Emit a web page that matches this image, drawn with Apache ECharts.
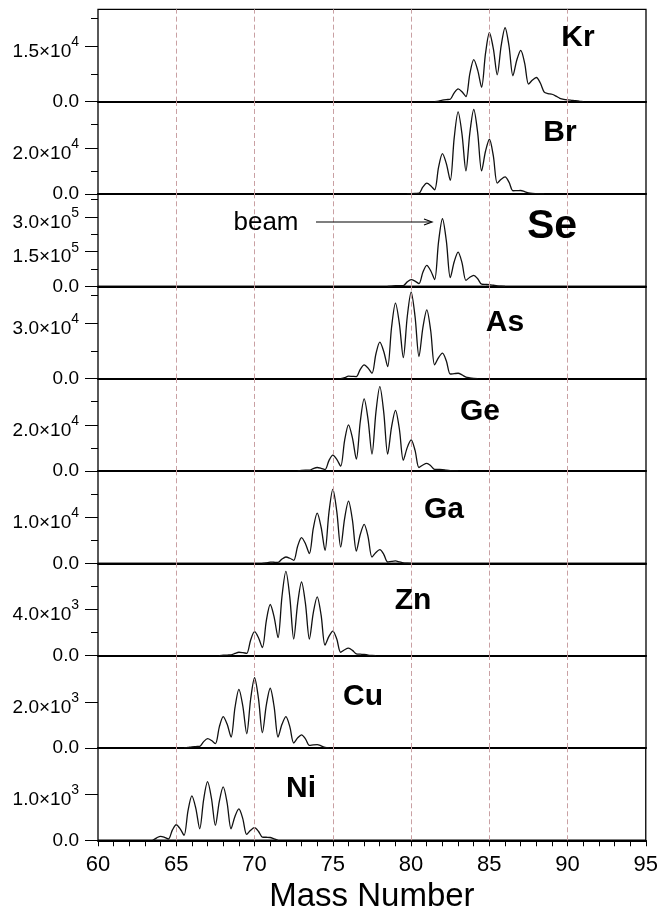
<!DOCTYPE html>
<html><head><meta charset="utf-8">
<script src="https://cdn.jsdelivr.net/npm/echarts@6/dist/echarts.min.js"></script>
<style>html,body{margin:0;padding:0;background:#fff}#c{width:661px;height:916px}</style>
</head><body><div id="c"></div>
<script>
// ---------- data ----------
const elements = ['Kr','Br','Se','As','Ge','Ga','Zn','Cu','Ni'];
const massStep = 0.25;
const krStart = 81.5;
const krCounts = [0,150,400,550,650,2392,3460,2662,1360,7566,11370,8531,3900,13045,18650,14326,7270,15163,20000,15060,7000,11278,13900,10423,4750,5860,6540,5043,2600,2200,2000,1500,900,600,450,350,250,120,0];
const brStart = 79.75;
const brCounts = [0,150,250,300,3028,4700,3590,1780,11508,17470,13073,5900,24283,35550,25841,10000,26480,36580,26480,10000,18494,23700,16480,4700,6362,7380,5108,1400,1450,1500,1000,500,250,150,60,0];
const seStart = 78.5;
const seCounts = [0,1000,2500,3000,3000,19120,29000,22426,11700,60742,90800,67316,29000,192432,292600,195700,37600,106048,148000,101640,26000,39330,47500,32870,9000,8000,7000,4500,2000,600,0];
const asStart = 75.5;
const asCounts = [0,500,1300,1200,1100,5025,7430,5709,2900,13347,19750,14715,6500,27828,40900,29690,11400,33391,46870,33593,11930,27641,37270,25931,7430,11367,13780,9494,2500,2700,2900,2000,800,400,150,0];
const geStart = 72.75;
const geCounts = [0,250,300,300,1044,1500,1158,600,4487,6870,5038,2050,13179,20000,14338,5100,21307,31240,22143,7300,25404,36500,25404,7300,19055,26260,18060,4680,10105,13430,8897,1500,2579,3240,2275,700,650,600,350,150,50,0];
const gaStart = 70.5;
const gaCounts = [0,100,250,220,200,919,1360,1090,650,3688,5550,4239,2100,7537,10870,7803,2800,10984,16000,11258,3520,9683,13460,9356,2660,6231,8420,5737,1360,2352,2960,1942,280,416,500,300,100,30,0];
const znStart = 67.75;
const znCounts = [0,30,50,60,190,290,255,200,1359,2070,1546,690,3009,4430,3336,1550,5115,7300,5073,1440,4503,6380,4503,1440,3703,5090,3505,920,1670,2130,1431,290,507,640,454,150,120,100,50,20,0];
const cuStart = 65.5;
const cuCounts = [0,20,50,60,70,275,400,320,190,915,1360,1022,470,1753,2540,1809,615,2119,3040,2136,660,1854,2585,1781,470,1022,1360,925,215,435,570,397,115,134,145,90,20,0];
const niStart = 63.5;
const niCounts = [0,53,86,64,28,219,336,249,107,638,963,692,250,882,1270,909,321,839,1156,812,250,515,678,469,128,217,272,195,70,65,60,30,0];

const yMax = [25000, 40000, 400000, 50000, 40000, 20000, 8000, 4000, 2000];
const yMajorTicks = [[0,15000],[0,20000],[0,150000,300000],[0,30000],[0,20000],[0,10000],[0,4000],[0,2000],[0,1000]];
const yMinorTicks = [[7500,22500],[10000,30000],[75000,225000,375000],[15000,45000],[10000,30000],[5000,15000],[2000,6000],[],[]];
const guideMasses = [65,70,75,80,85,90];
const massMin = 60, massMax = 95, massLabelStep = 5;
const xTitle = 'Mass Number';
const beamText = 'beam';

// ---------- layout ----------
const starts = [krStart,brStart,seStart,asStart,geStart,gaStart,znStart,cuStart,niStart];
const counts = [krCounts,brCounts,seCounts,asCounts,geCounts,gaCounts,znCounts,cuCounts,niCounts];
const FONT = '"Liberation Sans", Arial, Helvetica, sans-serif';
const PLOT_LEFT = 98, PLOT_RIGHT = 15, TOP0 = 9.3, PANEL_H = 92.33;
const labelLayout = [[578,38,30],[560,133,30],[552,227,41],[505,323,30],[480,412,30],[444,510,30],[413,601,30],[363,697,30],[301,789,30]];
const guideColor = '#c9a0a3';

function fmtY(v){
  if (v === 0) return '{z|0.0}';
  const e = Math.floor(Math.log10(v) + 1e-9);
  const m = (v / Math.pow(10, e)).toFixed(1);
  return '{b|' + m + '×10}{s|' + e + '}';
}

const grids = [], xAxes = [], yAxes = [], series = [];
for (let i = 0; i < 9; i++) {
  const last = i === 8;
  grids.push({left: PLOT_LEFT, right: PLOT_RIGHT, top: TOP0 + i*PANEL_H, height: PANEL_H,
    show: true, borderColor: '#000', borderWidth: 1.3, backgroundColor: 'transparent'});
  xAxes.push({
    gridIndex: i, type: 'value', min: massMin, max: massMax, interval: massLabelStep,
    axisLine: {show: true, onZero: false, lineStyle: {color: '#000', width: 2}},
    axisTick: {show: last, length: 6, lineStyle: {color: '#000', width: 1}},
    minorTick: {show: last, splitNumber: 5, length: 6, lineStyle: {color: '#000', width: 1}},
    axisLabel: {show: last, fontSize: 22, color: '#000', fontFamily: FONT, margin: 14, showMinLabel: true, showMaxLabel: true},
    splitLine: {show: false}, minorSplitLine: {show: false},
    name: last ? xTitle : '', nameLocation: 'middle', nameGap: 40,
    nameTextStyle: {fontSize: 33, color: '#000', fontFamily: FONT}
  });
  yAxes.push({
    gridIndex: i, type: 'value', min: 0, max: yMax[i], position: 'left', offset: 0,
    axisLine: {show: false},
    axisTick: {show: true, length: 13, customValues: yMajorTicks[i], lineStyle: {color: '#000', width: 1}},
    axisLabel: {show: true, customValues: yMajorTicks[i], formatter: fmtY, margin: 19, color: '#000',
      fontFamily: FONT, fontSize: 19,
      rich: {
        z: {fontSize: 19, fontFamily: FONT, color: '#000'},
        b: {fontSize: 19, fontFamily: FONT, color: '#000', lineHeight: 18, padding: [11,0,0,0]},
        s: {fontSize: 14, fontFamily: FONT, color: '#000', lineHeight: 15, padding: [3,0,11,0]}
      }},
    splitLine: {show: false}
  });
  yAxes.push({
    gridIndex: i, type: 'value', min: 0, max: yMax[i], position: 'left', offset: 0,
    axisLine: {show: false},
    axisTick: {show: yMinorTicks[i].length > 0, length: 7, customValues: yMinorTicks[i].length ? yMinorTicks[i] : [0], lineStyle: {color: '#000', width: 1}},
    axisLabel: {show: false},
    splitLine: {show: false}
  });
  series.push({
    type: 'line', xAxisIndex: i, yAxisIndex: 2*i,
    data: counts[i].map((c, k) => [starts[i] + k*massStep, c]),
    smooth: 0.3, symbol: 'none', clip: true,
    lineStyle: {color: '#111', width: 1.3},
    z: 3,
    markLine: {
      silent: true, symbol: 'none', animation: false,
      label: {show: false},
      lineStyle: {color: guideColor, type: [5,3], width: 1},
      data: guideMasses.map(m => ({xAxis: m}))
    }
  });
}

const graphic = elements.map((name, i) => ({
  type: 'text', x: labelLayout[i][0], y: labelLayout[i][1], z: 10,
  style: {text: name, font: 'bold ' + labelLayout[i][2] + 'px ' + FONT, fill: '#000',
    align: 'center', verticalAlign: 'middle', textAlign: 'center', textVerticalAlign: 'middle'}
}));
graphic.push({type: 'text', x: 266, y: 223, z: 10,
  style: {text: beamText, font: '26px ' + FONT, fill: '#000', align: 'center', verticalAlign: 'middle', textAlign: 'center', textVerticalAlign: 'middle'}});
graphic.push({type: 'line', z: 10, shape: {x1: 316, y1: 222, x2: 431, y2: 222}, style: {stroke: '#000', lineWidth: 1.2}});
graphic.push({type: 'polyline', z: 10, shape: {points: [[424,219],[432,222],[424,225]]}, style: {stroke: '#000', lineWidth: 1.2, fill: null}});

const chart = echarts.init(document.getElementById('c'), null, {renderer: 'canvas'});
chart.setOption({
  animation: false,
  backgroundColor: '#fff',
  grid: grids, xAxis: xAxes, yAxis: yAxes, series: series, graphic: graphic
});
</script></body></html>
